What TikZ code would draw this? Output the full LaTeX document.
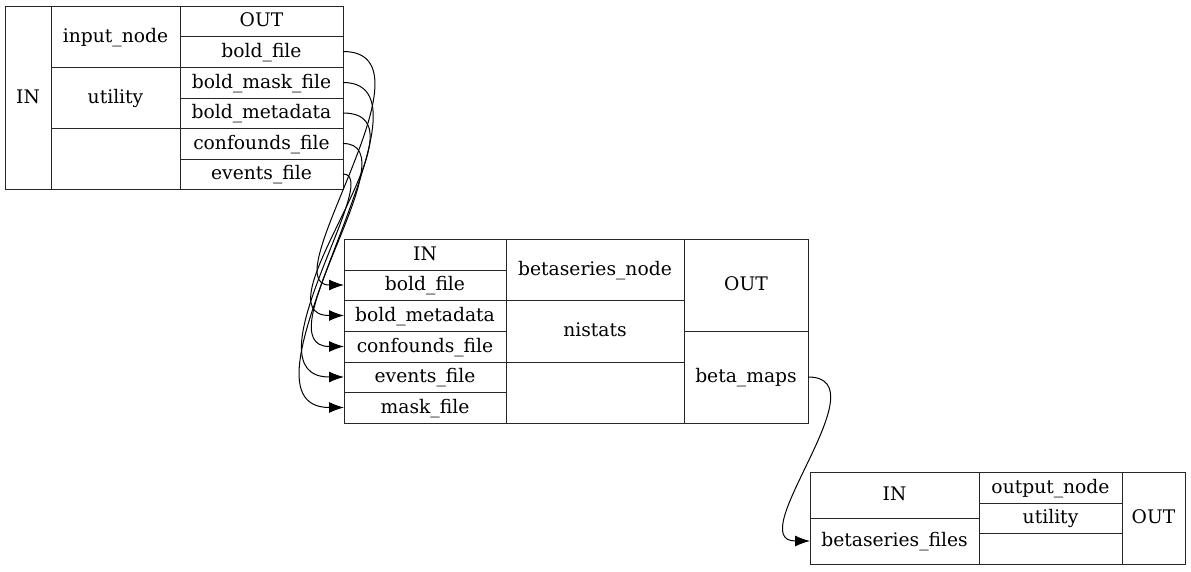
\documentclass[tikz,border=0pt]{standalone}
\usepackage{fontspec}
\setmainfont{DejaVu Serif}
\usetikzlibrary{arrows.meta}
\tikzset{
  cell/.style={draw=black!85, line width=1pt, inner sep=0pt, outer sep=0pt,
    font=\fontsize{18.7}{22}\selectfont, text height=13.6pt, text depth=2pt, align=center},
  edge/.style={draw=black, line width=1pt, -{Latex[length=15pt,width=11pt]}}
}
\newcommand\mycell[6]{\node[cell, minimum width={#4-#2}, minimum height={#5-#3}] (#1) at ({(#2+#4)/2},{(#3+#5)/2}) {#6};}
\begin{document}
\begin{tikzpicture}[x=1pt,y=-1pt]
\useasboundingbox (0,0) rectangle (1191,571);
% input node
\mycell{iin}{5}{6}{51}{189}{IN}
\mycell{iname}{51}{6}{180}{67}{input\_node}
\mycell{iutil}{51}{67}{180}{128}{utility}
\mycell{iempty}{51}{128}{180}{189}{}
\mycell{iout}{180}{6}{343}{36}{OUT}
\mycell{ibold}{180}{36}{343}{67}{bold\_file}
\mycell{imask}{180}{67}{343}{98}{bold\_mask\_file}
\mycell{imeta}{180}{98}{343}{128}{bold\_metadata}
\mycell{iconf}{180}{128}{343}{159}{confounds\_file}
\mycell{ievents}{180}{159}{343}{189}{events\_file}
% betaseries node
\mycell{bin}{344}{239}{506}{270}{IN}
\mycell{bbold}{344}{270}{506}{300}{bold\_file}
\mycell{bmeta}{344}{300}{506}{331}{bold\_metadata}
\mycell{bconf}{344}{331}{506}{362}{confounds\_file}
\mycell{bevents}{344}{362}{506}{392}{events\_file}
\mycell{bmask}{344}{392}{506}{423}{mask\_file}
\mycell{bname}{506}{239}{684}{300}{betaseries\_node}
\mycell{bnistats}{506}{300}{684}{362}{nistats}
\mycell{bempty}{506}{362}{684}{423}{}
\mycell{bout}{684}{239}{808}{331}{OUT}
\mycell{bmaps}{684}{331}{808}{423}{beta\_maps}
% output node
\mycell{oin}{810}{472}{979}{518}{IN}
\mycell{ofiles}{810}{518}{979}{564}{betaseries\_files}
\mycell{oname}{979}{472}{1122}{503}{output\_node}
\mycell{outil}{979}{503}{1122}{533}{utility}
\mycell{oempty}{979}{533}{1122}{564}{}
\mycell{oout}{1122}{472}{1185}{564}{OUT}
% edges
\draw[edge] (ibold.east) .. controls +(100,0) and +(-73,0) .. (bbold.west);
\draw[edge] (imask.east) .. controls +(110,0) and +(-125,0) .. (bmask.west);
\draw[edge] (imeta.east) .. controls +(93,0) and +(-90,0) .. (bmeta.west);
\draw[edge] (iconf.east) .. controls +(70,0) and +(-83,0) .. (bconf.west);
\draw[edge] (ievents.east) .. controls +(42,0) and +(-100,0) .. (bevents.west);
\draw[edge] (bmaps.east) .. controls +(76,0) and +(-70,0) .. (ofiles.west);
\end{tikzpicture}
\end{document}
